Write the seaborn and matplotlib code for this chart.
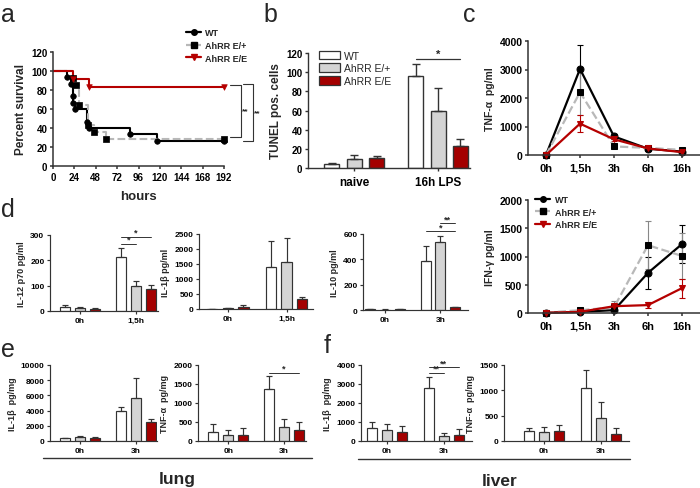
import numpy as np
import pandas as pd
import matplotlib
matplotlib.use("Agg")
import matplotlib.pyplot as plt
import matplotlib.transforms as mtransforms
from matplotlib.lines import Line2D
from matplotlib.patches import Patch
import seaborn as sns

W, H = 700, 489

GENOS = ["WT", "AhRR E/+", "AhRR E/E"]
BAR_COLORS = ["#ffffff", "#d4d4d4", "#a40000"]
RED = "#b50000"
GREY_LINE = "#b8b8b8"
DARK = "#333333"

# a: survival curves (hours, percent survival)
SURV_WT_T = [0, 16, 20, 22, 23, 25, 38, 40, 87, 117, 192]
SURV_WT_S = [100, 93.3, 86.7, 73.3, 66.7, 60, 46.7, 40, 33.3, 26.7, 26.7]
SURV_HET_T = [0, 22, 26, 29, 39, 46, 60, 192]
SURV_HET_S = [100, 92.9, 85.7, 64.3, 42.9, 35.7, 28.6, 28.6]
SURV_HOM_T = [0, 22, 40, 192]
SURV_HOM_S = [100, 91.7, 83.3, 83.3]

# b: TUNEL
B_GROUPS = ["naive", "16h LPS"]
B_MEANS = [[4, 96], [9.5, 60], [10.5, 23]]
B_ERRS = [[1, 13], [4, 23], [2.5, 7]]

# c: serum time courses
C_TIMES = ["0h", "1,5h", "3h", "6h", "16h"]
TNF_MEANS = [[0, 3020, 650, 220, 120], [0, 2200, 300, 250, 180], [0, 1100, 550, 230, 100]]
TNF_ERRS = [[0, 830, 100, 30, 30], [0, 800, 50, 40, 30], [0, 300, 60, 40, 20]]
IFN_MEANS = [[5, 20, 50, 710, 1220], [5, 50, 100, 1200, 1010], [5, 20, 120, 140, 440]]
IFN_ERRS = [[3, 10, 30, 290, 330], [3, 15, 120, 430, 410], [3, 10, 30, 50, 170]]

# d: cytokines
D1_GROUPS = ["0h", "1,5h"]
D1_MEANS = [[15, 212], [10, 100], [6, 85]]
D1_ERRS = [[8, 35], [6, 20], [5, 18]]
D2_GROUPS = ["0h", "1,5h"]
D2_MEANS = [[5, 1400], [20, 1580], [80, 350]]
D2_ERRS = [[3, 880], [10, 780], [40, 40]]
D3_GROUPS = ["0h", "3h"]
D3_MEANS = [[5, 390], [3, 535], [5, 20]]
D3_ERRS = [[2, 115], [2, 50], [2, 5]]

# e: lung
E1_MEANS = [[350, 3960], [530, 5630], [440, 2550]]
E1_ERRS = [[50, 570], [100, 2640], [50, 300]]
E2_MEANS = [[250, 1380], [160, 370], [170, 280]]
E2_ERRS = [[185, 330], [130, 200], [185, 230]]

# f: liver
F1_MEANS = [[670, 2800], [600, 250], [480, 320]]
F1_ERRS = [[350, 550], [320, 190], [310, 300]]
F2_MEANS = [[200, 1045], [185, 445], [205, 135]]
F2_ERRS = [[65, 355], [100, 315], [120, 125]]
EF_GROUPS = ["0h", "3h"]


def px_axes(fig, x0, y0, x1, y1):
    return fig.add_axes([x0 / W, 1 - y1 / H, (x1 - x0) / W, (y1 - y0) / H])


def style_axes(ax, tick_fs, lw=1.0):
    sns.despine(ax=ax)
    for side in ["left", "bottom"]:
        ax.spines[side].set_color(DARK)
        ax.spines[side].set_linewidth(lw)
    ax.tick_params(colors=DARK, labelcolor="black", width=lw, length=2.5, pad=1.5, labelsize=tick_fs)
    ax.set_xlabel("")


def bar_panel(ax, groups, means, errs, ylim, step, ylabel, xlim, tick_fs=6, label_fs=6.5, lw=0.85, cap=2.0):
    df = pd.DataFrame({
        "time": np.tile(groups, len(GENOS)),
        "geno": np.repeat(GENOS, len(groups)),
        "value": np.ravel(means),
    })
    sns.barplot(data=df, x="time", y="value", hue="geno", hue_order=GENOS,
                palette=BAR_COLORS, saturation=1, gap=0.33, errorbar=None,
                edgecolor=DARK, linewidth=lw, legend=False, ax=ax)
    for cont, err in zip(ax.containers, errs):
        xs = [p.get_x() + p.get_width() / 2 for p in cont.patches]
        ys = [p.get_height() for p in cont.patches]
        ax.errorbar(xs, ys, yerr=[np.zeros(len(err)), err], fmt="none", ecolor=DARK,
                    elinewidth=lw, capsize=cap, capthick=lw, zorder=3)
    ax.set_ylim(*ylim)
    ax.set_yticks(np.arange(ylim[0], ylim[1] + 1, step))
    ax.set_xlim(*xlim)
    style_axes(ax, tick_fs, lw)
    ax.set_ylabel(ylabel, fontsize=label_fs, labelpad=3)


def bar_center(ax, hue_i, group_i):
    p = ax.containers[hue_i].patches[group_i]
    return p.get_x() + p.get_width() / 2


def sig(ax, a, b, y, text, fs=6.5, lw=0.7):
    x0 = bar_center(ax, *a)
    x1 = bar_center(ax, *b)
    ax.plot([x0, x1], [y, y], color=DARK, lw=lw, clip_on=False)
    ax.text((x0 + x1) / 2, y, text, ha="center", va="bottom", fontsize=fs,
            fontweight="bold", clip_on=False)


LINE_STYLES = [
    dict(color="black", linestyle="-", marker="o", markerfacecolor="black", markeredgecolor="black", ecolor="black"),
    dict(color=GREY_LINE, linestyle="--", marker="s", markerfacecolor="black", markeredgecolor="black", ecolor="#888888"),
    dict(color=RED, linestyle="-", marker="v", markerfacecolor=RED, markeredgecolor=RED, ecolor=RED),
]


def line_panel(ax, means, errs, ylim, step, ylabel):
    x = np.arange(len(C_TIMES))
    for vals, err, st in zip(means, errs, LINE_STYLES):
        st = dict(st)
        ecolor = st.pop("ecolor")
        sns.lineplot(x=x, y=vals, linewidth=1.6, markersize=5, ax=ax, legend=False,
                     estimator=None, sort=False, clip_on=False, **st)
        ax.errorbar(x, vals, yerr=err, fmt="none", ecolor=ecolor, elinewidth=0.8,
                    capsize=2.5, capthick=0.8, zorder=1)
    ax.set_xticks(x)
    ax.set_xticklabels(C_TIMES)
    ax.set_xlim(-0.53, len(C_TIMES) - 0.47)
    ax.set_ylim(*ylim)
    ax.set_yticks(np.arange(ylim[0], ylim[1] + 1, step))
    style_axes(ax, 7.5, 1.1)
    ax.tick_params(axis="x", labelsize=8, pad=3)
    ax.set_ylabel(ylabel, fontsize=7.5, labelpad=3)


def line_handles():
    hs = []
    for st in LINE_STYLES:
        st = dict(st)
        st.pop("ecolor")
        hs.append(Line2D([], [], linewidth=1.6, markersize=4, **st))
    return hs


sns.set_theme(style="ticks")
plt.rcParams["font.family"] = ["Liberation Sans", "DejaVu Sans"]
plt.rcParams["font.weight"] = "bold"
plt.rcParams["axes.labelweight"] = "bold"

fig = plt.figure(figsize=(W / 100, H / 100), dpi=100)

# ---- a: survival
ax = px_axes(fig, 53, 53, 224, 167)
surv = [(SURV_WT_T, SURV_WT_S), (SURV_HET_T, SURV_HET_S), (SURV_HOM_T, SURV_HOM_S)]
for (t, s), st in zip(surv, LINE_STYLES):
    sns.lineplot(x=t, y=s, color=st["color"], linestyle=st["linestyle"], linewidth=1.5,
                 drawstyle="steps-post", estimator=None, sort=False, ax=ax, legend=False)
for (t, s), st in zip(surv, LINE_STYLES):
    sns.scatterplot(x=t[1:], y=s[1:], marker=st["marker"], color=st["markerfacecolor"],
                    edgecolor=st["markeredgecolor"], s=16, linewidth=0.5, ax=ax,
                    legend=False, clip_on=False, zorder=4)
ax.set_xlim(0, 192)
ax.set_ylim(0, 120)
ax.set_xticks(np.arange(0, 193, 24))
ax.set_yticks(np.arange(0, 121, 20))
style_axes(ax, 7, 1.1)
ax.set_xlabel("hours", fontsize=9.5, labelpad=6)
ax.set_ylabel("Percent survival", fontsize=8.5, labelpad=3)
ax.legend(line_handles(), GENOS, loc="upper left", bbox_to_anchor=(0.78, 1.21),
          frameon=False, fontsize=6.5, handlelength=1.6, handletextpad=0.5,
          labelspacing=0.42, borderaxespad=0, borderpad=0)
tr = mtransforms.blended_transform_factory(ax.transAxes, ax.transData)
for xs, xe, ytop, ybot in [(1.035, 1.099, 85, 31), (1.111, 1.17, 86, 26)]:
    ax.plot([xs, xe, xe, xs], [ytop, ytop, ybot, ybot], color=DARK, lw=0.8,
            transform=tr, clip_on=False)
    ax.text(xe + 0.008, (ytop + ybot) / 2, "**", fontsize=6, va="center", ha="left",
            transform=tr, clip_on=False)

# ---- b: TUNEL
ax = px_axes(fig, 308, 54, 470, 169)
bar_panel(ax, B_GROUPS, B_MEANS, B_ERRS, (0, 120), 20, "TUNEL pos. cells",
          (-0.55, 1.38), tick_fs=7, label_fs=8.5, lw=1.0, cap=3)
ax.tick_params(axis="x", labelsize=8.5, pad=3)
sig(ax, (0, 1), (2, 1), 114, "*", fs=8, lw=0.9)
ax.legend([Patch(facecolor=c, edgecolor=DARK, linewidth=0.9) for c in BAR_COLORS], GENOS,
          loc="upper left", bbox_to_anchor=(0.07, 1.02), frameon=False,
          prop={"size": 7.5, "weight": "normal"}, handlelength=2.0, handleheight=0.9,
          handletextpad=0.4, labelspacing=0.25, borderaxespad=0, borderpad=0)

# ---- c: TNF-alpha and IFN-gamma time courses
ax = px_axes(fig, 528, 42, 700, 156)
line_panel(ax, TNF_MEANS, TNF_ERRS, (0, 4000), 1000, "TNF-α  pg/ml")
ax = px_axes(fig, 528, 201, 700, 314)
line_panel(ax, IFN_MEANS, IFN_ERRS, (0, 2000), 500, "IFN-γ pg/ml")
ax.legend(line_handles(), GENOS, loc="upper left", bbox_to_anchor=(0.04, 1.04),
          frameon=False, fontsize=6.5, handlelength=1.7, handletextpad=0.5,
          labelspacing=0.35, borderaxespad=0, borderpad=0)

# ---- d
ax = px_axes(fig, 50, 236, 158, 312)
bar_panel(ax, D1_GROUPS, D1_MEANS, D1_ERRS, (0, 300), 100, "IL-12 p70 pg/ml", (-0.54, 1.4))
sig(ax, (0, 1), (1, 1), 265, "*")
sig(ax, (0, 1), (2, 1), 292, "*")
ax = px_axes(fig, 199, 235, 313, 310)
bar_panel(ax, D2_GROUPS, D2_MEANS, D2_ERRS, (0, 2500), 500, "IL-1β pg/ml", (-0.49, 1.45))
ax = px_axes(fig, 363, 235, 468, 311)
bar_panel(ax, D3_GROUPS, D3_MEANS, D3_ERRS, (0, 600), 200, "IL-10 pg/ml", (-0.4, 1.5))
sig(ax, (0, 1), (2, 1), 622, "*")
sig(ax, (1, 1), (2, 1), 686, "**")

# ---- e: lung
ax = px_axes(fig, 50, 366, 157, 442)
bar_panel(ax, EF_GROUPS, E1_MEANS, E1_ERRS, (0, 10000), 2000, "IL-1β  pg/mg", (-0.54, 1.38))
ax = px_axes(fig, 198, 366, 306, 442)
bar_panel(ax, EF_GROUPS, E2_MEANS, E2_ERRS, (0, 2000), 500, "TNF-α  pg/mg", (-0.54, 1.39))
sig(ax, (0, 1), (2, 1), 1790, "*")

# ---- f: liver
ax = px_axes(fig, 361, 366, 472, 442)
bar_panel(ax, EF_GROUPS, F1_MEANS, F1_ERRS, (0, 4000), 1000, "IL-1β  pg/mg", (-0.46, 1.5))
sig(ax, (0, 1), (1, 1), 3580, "**")
sig(ax, (0, 1), (2, 1), 3880, "**")
ax = px_axes(fig, 504, 366, 629, 442)
bar_panel(ax, EF_GROUPS, F2_MEANS, F2_ERRS, (0, 1500), 500, "TNF-α  pg/mg", (-0.7, 1.49))

# organ separators and labels
for x0, x1, y, xt, yt, name in [(43, 312, 459, 177, 484, "lung"), (358, 630, 460, 500, 486, "liver")]:
    fig.add_artist(Line2D([x0 / W, x1 / W], [1 - y / H, 1 - y / H], color=DARK, lw=1.0))
    fig.text(xt / W, 1 - yt / H, name, ha="center", va="baseline", fontsize=12.5, fontweight="bold")

# panel letters
for x, y, letter in [(1, 22, "a"), (263, 22, "b"), (463, 22, "c"), (1, 217, "d"), (1, 357, "e"), (324, 353, "f")]:
    fig.text(x / W, 1 - y / H, letter, ha="left", va="baseline", fontsize=18, fontweight="normal")

fig.savefig("out.png", dpi=100)
